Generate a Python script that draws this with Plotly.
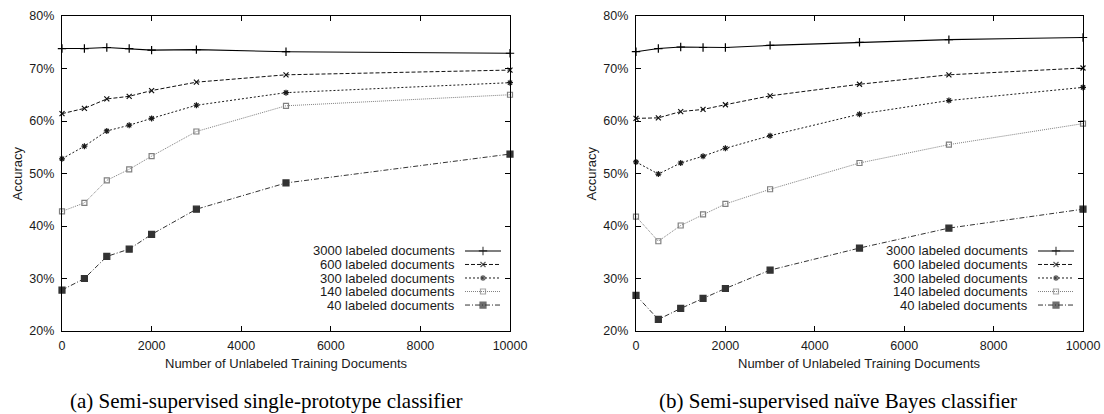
import plotly.graph_objects as go

W, H = 1104, 414

# Number of unlabeled training documents (x values)
unlabeled_a = [0, 500, 1000, 1500, 2000, 3000, 5000, 10000]
unlabeled_b = [0, 500, 1000, 1500, 2000, 3000, 5000, 7000, 10000]

series_names = [
    "3000 labeled documents",
    "600 labeled documents",
    "300 labeled documents",
    "140 labeled documents",
    "40 labeled documents",
]

# (a) semi-supervised single-prototype classifier, accuracy in %
proto_3000 = [73.8, 73.8, 74.0, 73.8, 73.5, 73.6, 73.2, 72.9]
proto_600 = [61.4, 62.4, 64.2, 64.7, 65.8, 67.4, 68.8, 69.7]
proto_300 = [52.8, 55.2, 58.1, 59.2, 60.5, 63.0, 65.4, 67.3]
proto_140 = [42.8, 44.4, 48.7, 50.8, 53.3, 58.0, 62.9, 65.0]
proto_40 = [27.8, 30.0, 34.2, 35.6, 38.4, 43.2, 48.2, 53.7]

# (b) semi-supervised naive Bayes classifier, accuracy in %
nb_3000 = [73.2, 73.8, 74.1, 74.0, 74.0, 74.4, 75.0, 75.5, 75.9]
nb_600 = [60.5, 60.6, 61.8, 62.2, 63.1, 64.8, 67.0, 68.8, 70.1]
nb_300 = [52.2, 49.9, 52.0, 53.3, 54.8, 57.2, 61.3, 63.9, 66.4]
nb_140 = [41.8, 37.1, 40.1, 42.2, 44.2, 47.0, 52.0, 55.5, 59.5]
nb_40 = [26.8, 22.2, 24.3, 26.2, 28.1, 31.6, 35.8, 39.6, 43.2]

y_ticks = [20, 30, 40, 50, 60, 70, 80]
y_tick_labels = ["20%", "30%", "40%", "50%", "60%", "70%", "80%"]
x_ticks = [0, 2000, 4000, 6000, 8000, 10000]
x_tick_labels = ["0", "2000", "4000", "6000", "8000", "10000"]

captions = [
    "(a) Semi-supervised single-prototype classifier",
    "(b) Semi-supervised naïve Bayes classifier",
]

# gnuplot-like line/point styles, one per series
styles = [
    dict(color="#000000", dash="solid", symbol="cross-thin-open", size=6, lw=1.1),
    dict(color="#111111", dash="4px,2px", symbol="x-thin-open", size=5, lw=1.0),
    dict(color="#1a1a1a", dash="2px,2px", symbol="asterisk-open", size=5, lw=1.0),
    dict(color="#808080", dash="1px,1px", symbol="square-open", size=5, lw=1.0),
    dict(color="#333333", dash="5px,2px,1px,2px", symbol="square", size=6, lw=1.0),
]

SANS = "Liberation Sans, Arial, Helvetica, sans-serif"
SERIF = "Liberation Serif, Times New Roman, serif"
TXT = "#1a1a1a"


def xdom(left, right):
    return [left / W, right / W]


def ydom(top, bottom):
    return [(H - bottom) / H, (H - top) / H]


def px_x(v):
    return v / W


def px_y(v):
    return (H - v) / H


PLOT_TOP, PLOT_BOTTOM = 16, 331
panels = [
    dict(x=unlabeled_a, ys=[proto_3000, proto_600, proto_300, proto_140, proto_40],
         left=62, right=510, legend=(465, 501), cap_x=266),
    dict(x=unlabeled_b, ys=[nb_3000, nb_600, nb_300, nb_140, nb_40],
         left=636, right=1083, legend=(1038, 1074), cap_x=838),
]
LEG_TOP, LEG_BOTTOM = 244.2, 311.8

fig = go.Figure()
annotations = []

for p_i, panel in enumerate(panels):
    n = p_i + 1
    xa = "x" if n == 1 else f"x{n}"
    ya = "y" if n == 1 else f"y{n}"
    ln = 2 + n  # key axes index
    lxa, lya = f"x{ln}", f"y{ln}"

    for s_i, (name, yvals) in enumerate(zip(series_names, panel["ys"])):
        st = styles[s_i]
        fig.add_trace(go.Scatter(
            x=panel["x"], y=yvals, xaxis=xa, yaxis=ya,
            mode="lines+markers", name=name, showlegend=False,
            cliponaxis=False,
            line=dict(color=st["color"], dash=st["dash"], width=st["lw"]),
            marker=dict(symbol=st["symbol"], size=st["size"], color=st["color"],
                        line=dict(color=st["color"], width=1.2)),
        ))
        # key sample: short line with the point symbol in its middle
        fig.add_trace(go.Scatter(
            x=[0, 0.5, 1], y=[s_i] * 3, xaxis=lxa, yaxis=lya,
            mode="lines+markers", showlegend=False, hoverinfo="skip",
            cliponaxis=False,
            line=dict(color=st["color"], dash=st["dash"], width=st["lw"]),
            marker=dict(symbol=st["symbol"], size=[0, st["size"], 0], color=st["color"],
                        line=dict(color=st["color"], width=1.2)),
        ))
        annotations.append(dict(
            xref=lxa, yref=lya, x=0, y=s_i, xanchor="right", yanchor="middle",
            xshift=-8, text=name, showarrow=False,
            font=dict(family=SANS, size=13, color=TXT),
        ))

    axis_common = dict(
        showline=True, linecolor="#000000", linewidth=1.3, mirror="ticks",
        ticks="inside", ticklen=5, tickwidth=1, tickcolor="#000000",
        showgrid=False, zeroline=False, tickmode="array", automargin=False,
        tickfont=dict(family=SANS, size=12.5, color=TXT),
    )
    fig.update_layout({
        ("xaxis" if n == 1 else f"xaxis{n}"): dict(
            axis_common, domain=xdom(panel["left"], panel["right"]),
            range=[0, 10000], tickvals=x_ticks, ticktext=x_tick_labels, anchor=ya,
            ticklabelstandoff=3,
        ),
        ("yaxis" if n == 1 else f"yaxis{n}"): dict(
            axis_common, domain=ydom(PLOT_TOP, PLOT_BOTTOM),
            range=[20, 80], tickvals=y_ticks, ticktext=y_tick_labels, anchor=xa,
            ticklabelstandoff=4,
        ),
        f"xaxis{ln}": dict(domain=xdom(*panel["legend"]), range=[0, 1],
                           visible=False, fixedrange=True, anchor=lya, automargin=False),
        f"yaxis{ln}": dict(domain=ydom(LEG_TOP, LEG_BOTTOM), range=[4.5, -0.5],
                           visible=False, fixedrange=True, anchor=lxa, automargin=False),
    })

    mid_x = (panel["left"] + panel["right"]) / 2
    annotations.append(dict(
        xref="paper", yref="paper", x=px_x(mid_x), y=px_y(363.7),
        xanchor="center", yanchor="middle", text="Number of Unlabeled Training Documents",
        showarrow=False, font=dict(family=SANS, size=13, color=TXT),
    ))
    annotations.append(dict(
        xref="paper", yref="paper", x=px_x(panel["left"] - 45),
        y=px_y((PLOT_TOP + PLOT_BOTTOM) / 2), textangle=-90,
        xanchor="center", yanchor="middle", text="Accuracy",
        showarrow=False, font=dict(family=SANS, size=13, color=TXT),
    ))
    annotations.append(dict(
        xref="paper", yref="paper", x=px_x(panel["cap_x"]), y=px_y(401),
        xanchor="center", yanchor="middle", text=captions[p_i],
        showarrow=False, font=dict(family=SERIF, size=21, color="#000000"),
    ))

fig.update_layout(
    width=W, height=H,
    margin=dict(l=0, r=0, t=0, b=0),
    paper_bgcolor="white", plot_bgcolor="white",
    showlegend=False,
    annotations=annotations,
)

fig.write_html("out.html")
